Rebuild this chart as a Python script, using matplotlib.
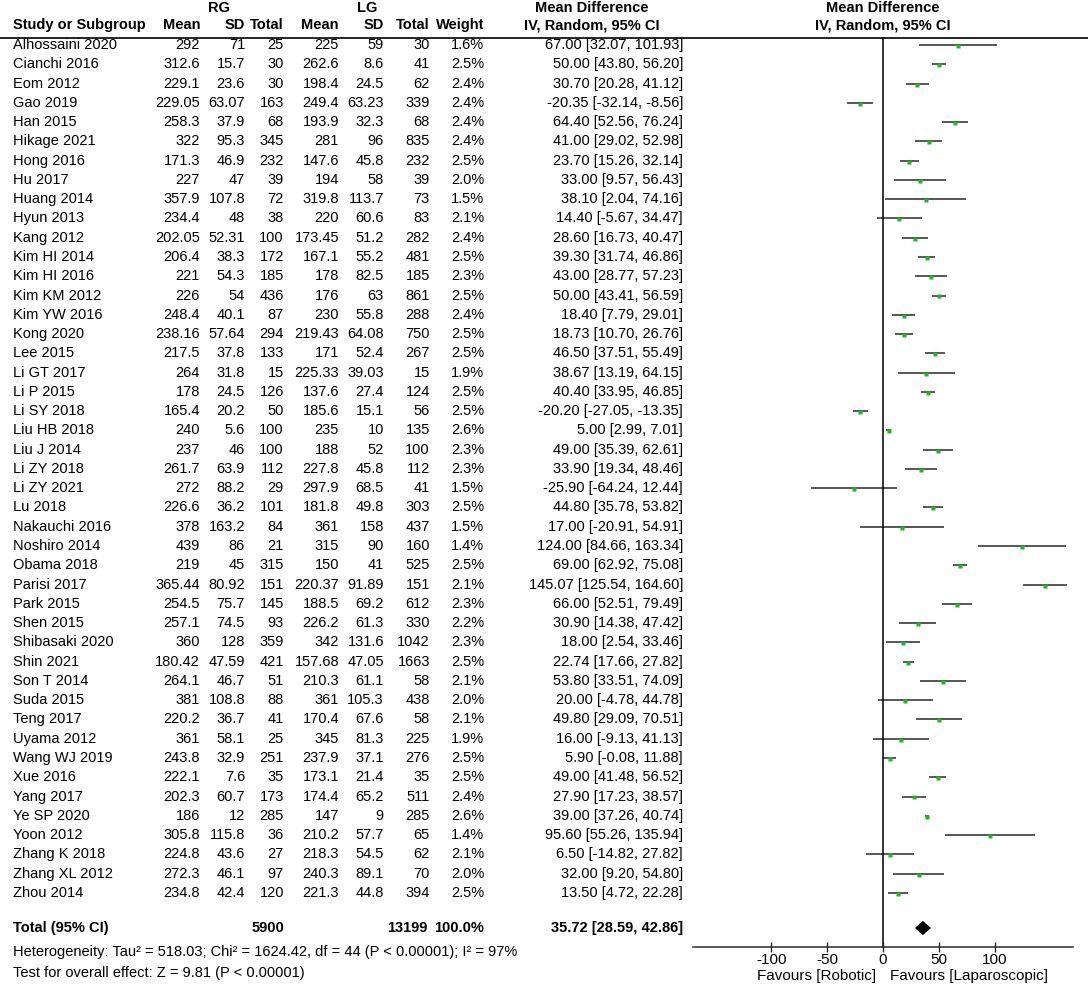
import matplotlib.pyplot as plt
from matplotlib import transforms
from matplotlib.lines import Line2D

plt.rcParams['font.family'] = ['Liberation Sans', 'DejaVu Sans']

studies = ["Alhossaini 2020", "Cianchi 2016", "Eom 2012", "Gao 2019", "Han 2015",
           "Hikage 2021", "Hong 2016", "Hu 2017", "Huang 2014", "Hyun 2013",
           "Kang 2012", "Kim HI 2014", "Kim HI 2016", "Kim KM 2012", "Kim YW 2016",
           "Kong 2020", "Lee 2015", "Li GT 2017", "Li P 2015", "Li SY 2018",
           "Liu HB 2018", "Liu J 2014", "Li ZY 2018", "Li ZY 2021", "Lu 2018",
           "Nakauchi 2016", "Noshiro 2014", "Obama 2018", "Parisi 2017", "Park 2015",
           "Shen 2015", "Shibasaki 2020", "Shin 2021", "Son T 2014", "Suda 2015",
           "Teng 2017", "Uyama 2012", "Wang WJ 2019", "Xue 2016", "Yang 2017",
           "Ye SP 2020", "Yoon 2012", "Zhang K 2018", "Zhang XL 2012", "Zhou 2014"]

rg_mean = ["292", "312.6", "229.1", "229.05", "258.3", "322", "171.3", "227", "357.9", "234.4",
           "202.05", "206.4", "221", "226", "248.4", "238.16", "217.5", "264", "178", "165.4",
           "240", "237", "261.7", "272", "226.6", "378", "439", "219", "365.44", "254.5",
           "257.1", "360", "180.42", "264.1", "381", "220.2", "361", "243.8", "222.1", "202.3",
           "186", "305.8", "224.8", "272.3", "234.8"]
rg_sd = ["71", "15.7", "23.6", "63.07", "37.9", "95.3", "46.9", "47", "107.8", "48",
         "52.31", "38.3", "54.3", "54", "40.1", "57.64", "37.8", "31.8", "24.5", "20.2",
         "5.6", "46", "63.9", "88.2", "36.2", "163.2", "86", "45", "80.92", "75.7",
         "74.5", "128", "47.59", "46.7", "108.8", "36.7", "58.1", "32.9", "7.6", "60.7",
         "12", "115.8", "43.6", "46.1", "42.4"]
rg_n = [25, 30, 30, 163, 68, 345, 232, 39, 72, 38,
        100, 172, 185, 436, 87, 294, 133, 15, 126, 50,
        100, 100, 112, 29, 101, 84, 21, 315, 151, 145,
        93, 359, 421, 51, 88, 41, 25, 251, 35, 173,
        285, 36, 27, 97, 120]
lg_mean = ["225", "262.6", "198.4", "249.4", "193.9", "281", "147.6", "194", "319.8", "220",
           "173.45", "167.1", "178", "176", "230", "219.43", "171", "225.33", "137.6", "185.6",
           "235", "188", "227.8", "297.9", "181.8", "361", "315", "150", "220.37", "188.5",
           "226.2", "342", "157.68", "210.3", "361", "170.4", "345", "237.9", "173.1", "174.4",
           "147", "210.2", "218.3", "240.3", "221.3"]
lg_sd = ["59", "8.6", "24.5", "63.23", "32.3", "96", "45.8", "58", "113.7", "60.6",
         "51.2", "55.2", "82.5", "63", "55.8", "64.08", "52.4", "39.03", "27.4", "15.1",
         "10", "52", "45.8", "68.5", "49.8", "158", "90", "41", "91.89", "69.2",
         "61.3", "131.6", "47.05", "61.1", "105.3", "67.6", "81.3", "37.1", "21.4", "65.2",
         "9", "57.7", "54.5", "89.1", "44.8"]
lg_n = [30, 41, 62, 339, 68, 835, 232, 39, 73, 83,
        282, 481, 185, 861, 288, 750, 267, 15, 124, 56,
        135, 100, 112, 41, 303, 437, 160, 525, 151, 612,
        330, 1042, 1663, 58, 438, 58, 225, 276, 35, 511,
        285, 65, 62, 70, 394]
weight = [1.6, 2.5, 2.4, 2.4, 2.4, 2.4, 2.5, 2.0, 1.5, 2.1,
          2.4, 2.5, 2.3, 2.5, 2.4, 2.5, 2.5, 1.9, 2.5, 2.5,
          2.6, 2.3, 2.3, 1.5, 2.5, 1.5, 1.4, 2.5, 2.1, 2.3,
          2.2, 2.3, 2.5, 2.1, 2.0, 2.1, 1.9, 2.5, 2.5, 2.4,
          2.6, 1.4, 2.1, 2.0, 2.5]
md = [67.00, 50.00, 30.70, -20.35, 64.40, 41.00, 23.70, 33.00, 38.10, 14.40,
      28.60, 39.30, 43.00, 50.00, 18.40, 18.73, 46.50, 38.67, 40.40, -20.20,
      5.00, 49.00, 33.90, -25.90, 44.80, 17.00, 124.00, 69.00, 145.07, 66.00,
      30.90, 18.00, 22.74, 53.80, 20.00, 49.80, 16.00, 5.90, 49.00, 27.90,
      39.00, 95.60, 6.50, 32.00, 13.50]
ci_lo = [32.07, 43.80, 20.28, -32.14, 52.56, 29.02, 15.26, 9.57, 2.04, -5.67,
         16.73, 31.74, 28.77, 43.41, 7.79, 10.70, 37.51, 13.19, 33.95, -27.05,
         2.99, 35.39, 19.34, -64.24, 35.78, -20.91, 84.66, 62.92, 125.54, 52.51,
         14.38, 2.54, 17.66, 33.51, -4.78, 29.09, -9.13, -0.08, 41.48, 17.23,
         37.26, 55.26, -14.82, 9.20, 4.72]
ci_hi = [101.93, 56.20, 41.12, -8.56, 76.24, 52.98, 32.14, 56.43, 74.16, 34.47,
         40.47, 46.86, 57.23, 56.59, 29.01, 26.76, 55.49, 64.15, 46.85, -13.35,
         7.01, 62.61, 48.46, 12.44, 53.82, 54.91, 163.34, 75.08, 164.60, 79.49,
         47.42, 33.46, 27.82, 74.09, 44.78, 70.51, 41.13, 11.88, 56.52, 38.57,
         40.74, 135.94, 27.82, 54.80, 22.28]

total_rg = 5900
total_lg = 13199
total_md = 35.72
total_lo = 28.59
total_hi = 42.86
ticks = [-100, -50, 0, 50, 100]

W, H = 1088, 986
row0, step = 45, 19.27


def row(p):
    return (p - row0) / step


fig = plt.figure(figsize=(W / 100, H / 100), dpi=100)
ax = fig.add_axes([693 / W, 0, 380 / W, 1])
ax.set_xlim(-170, 170)
ax.set_ylim(row(H), row(0))
ax.axis('off')

y_hdr = row(38)
y_axis = row(947)
y_tot = row(928)

# study rows
for i in range(len(studies)):
    ax.plot([ci_lo[i], ci_hi[i]], [i, i], color='#2a2a2a', lw=1.1, solid_capstyle='butt')
    ax.plot(md[i], i + 0.05, marker='s', ms=weight[i] * 0.8 + 1.2, color='#22b422', mec='none')

# pooled diamond
dh = 0.37
ax.fill([total_lo, total_md, total_hi, total_md], [y_tot, y_tot - dh, y_tot, y_tot + dh],
        color='black', lw=0)

# line of no effect
ax.plot([0, 0], [y_hdr, y_axis], color='black', lw=1.1)

# x axis
axx = fig.add_axes([693 / W, 1 - 947 / H, 380 / W, 1e-6])
axx.set_xlim(-170, 170)
axx.set_yticks([])
for s in ['left', 'right', 'top']:
    axx.spines[s].set_visible(False)
axx.spines['bottom'].set_linewidth(1.1)
axx.spines['bottom'].set_color('#2a2a2a')
axx.set_xticks(ticks)
axx.set_xticklabels([str(t) for t in ticks])
axx.tick_params(axis='x', direction='inout', length=7, width=1.0, labelsize=11, pad=1,
                color='#2a2a2a')

blend = transforms.blended_transform_factory(fig.transFigure, ax.transData)
fs = 10.5


def txt(x, y, s, ha='right', bold=False):
    fig.text(x / W, y, s, transform=blend, ha=ha, va='center', fontsize=fs,
             fontweight='bold' if bold else 'normal')


# header
fig.add_artist(Line2D([0, 1], [y_hdr, y_hdr], transform=blend, color='black', lw=1.2))
y_h1, y_h2 = row(8), row(25)
txt(219, y_h1, "RG", ha='center', bold=True)
txt(367, y_h1, "LG", ha='center', bold=True)
txt(592, y_h1, "Mean Difference", ha='center', bold=True)
txt(883, y_h1, "Mean Difference", ha='center', bold=True)
txt(13, y_h2, "Study or Subgroup", ha='left', bold=True)
cols = [200, 245, 284, 339, 384, 430, 484]
for x, s in zip(cols, ["Mean", "SD", "Total", "Mean", "SD", "Total", "Weight"]):
    txt(x, y_h2, s, bold=True)
txt(592, y_h2, "IV, Random, 95% CI", ha='center', bold=True)
txt(883, y_h2, "IV, Random, 95% CI", ha='center', bold=True)

for i in range(len(studies)):
    txt(13, i, studies[i], ha='left')
    vals = [rg_mean[i], rg_sd[i], str(rg_n[i]), lg_mean[i], lg_sd[i], str(lg_n[i]),
            f"{weight[i]:.1f}%"]
    for x, s in zip(cols, vals):
        txt(x, i, s)
    txt(683, i, f"{md[i]:.2f} [{ci_lo[i]:.2f}, {ci_hi[i]:.2f}]")

# total
txt(13, y_tot, "Total (95% CI)", ha='left', bold=True)
txt(cols[2], y_tot, str(total_rg), bold=True)
txt(cols[5] - 2, y_tot, str(total_lg), bold=True)
txt(cols[6], y_tot, "100.0%", bold=True)
txt(683, y_tot, f"{total_md:.2f} [{total_lo:.2f}, {total_hi:.2f}]", bold=True)
txt(13, row(952), "Heterogeneity: Tau\u00b2 = 518.03; Chi\u00b2 = 1624.42, df = 44 (P < 0.00001); I\u00b2 = 97%",
    ha='left')
txt(13, row(973), "Test for overall effect: Z = 9.81 (P < 0.00001)", ha='left')

# favours labels
fig.text(876 / W, row(976), "Favours [Robotic]", transform=blend, ha='right', va='center', fontsize=11)
fig.text(890 / W, row(976), "Favours [Laparoscopic]", transform=blend, ha='left', va='center', fontsize=11)

fig.savefig("out.png", dpi=100)
